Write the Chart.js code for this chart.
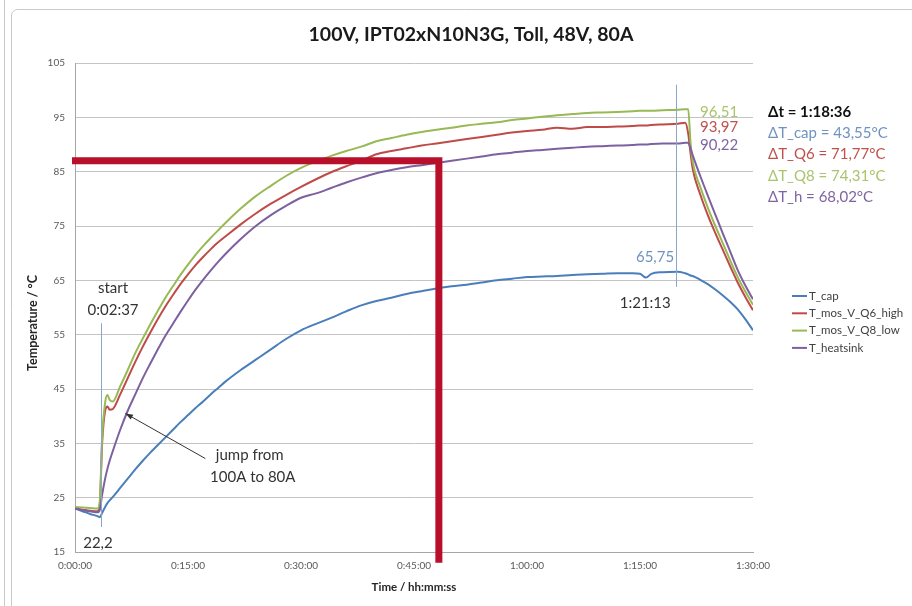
<!DOCTYPE html>
<html>
<head>
<meta charset="utf-8">
<script src="https://cdn.jsdelivr.net/npm/chart.js@4.4.4/dist/chart.umd.min.js"></script>
<style>
  html, body { margin: 0; padding: 0; background: #fff; }
  #wrap { width: 912px; height: 606px; }
</style>
</head>
<body>
<div id="wrap"><canvas id="chart" width="912" height="606"></canvas></div>
<script>
// time in minutes since start of log
const minutes = [
  0, 1, 2, 3, 3.3, 3.6, 4, 4.3, 4.6, 5,
  6, 7, 8, 9, 10, 11, 12, 13, 14, 15,
  16, 17, 18, 19, 20, 22, 24, 26, 28, 30,
  32, 34, 36, 38, 40, 42, 44, 46, 48, 50,
  52, 54, 56, 58, 60, 62, 64, 66, 68, 70,
  72, 74, 75, 75.8, 76.5, 78, 80, 81, 81.4, 81.7,
  82, 83, 84, 85, 86, 87, 88, 89, 90
];

const tCap = [
  23.0, 22.5, 22.0, 21.6, 21.4, 22.2, 23.3, 24.0, 24.5, 25.1,
  26.8, 28.5, 30.2, 31.8, 33.3, 34.7, 36.1, 37.5, 38.9, 40.2,
  41.5, 42.7, 44.0, 45.2, 46.4, 48.5, 50.4, 52.3, 54.2, 55.8,
  57.0, 58.1, 59.3, 60.4, 61.2, 61.8, 62.5, 63.0, 63.5, 63.9,
  64.2, 64.6, 65.0, 65.3, 65.6, 65.7, 65.8, 66.0, 66.1, 66.2,
  66.3, 66.3, 66.2, 65.5, 66.2, 66.5, 66.6, 66.3, 66.1, 65.9,
  65.8, 65.1, 64.3, 63.3, 62.2, 61.0, 59.6, 57.8, 55.8
];

const tQ6 = [
  23.0, 22.8, 22.6, 22.5, 24.0, 35.0, 41.0, 41.8, 41.2, 41.3,
  44.0, 47.0, 50.0, 52.8, 55.4, 57.9, 60.2, 62.3, 64.3, 66.1,
  67.8, 69.3, 70.7, 72.0, 73.1, 75.3, 77.3, 79.1, 80.7, 82.2,
  83.6, 84.9, 86.0, 87.0, 88.2, 88.8, 89.3, 89.8, 90.2, 90.6,
  91.0, 91.4, 91.8, 92.2, 92.5, 92.7, 93.1, 92.9, 93.2, 93.2,
  93.3, 93.4, 93.5, 93.5, 93.6, 93.7, 93.8, 94.0, 92.0, 88.5,
  85.5, 80.8, 77.0, 73.7, 70.6, 67.5, 64.5, 61.9, 59.5
];

const tQ8 = [
  23.3, 23.2, 23.1, 23.0, 24.5, 36.0, 42.5, 43.9, 43.0, 42.7,
  45.5, 48.5, 51.6, 54.3, 56.9, 59.4, 61.8, 63.9, 66.0, 67.9,
  69.7, 71.3, 72.8, 74.2, 75.6, 78.2, 80.5, 82.4, 84.2, 85.7,
  86.9, 87.9, 88.8, 89.6, 90.6, 91.2, 91.8, 92.3, 92.7, 93.1,
  93.5, 93.8, 94.1, 94.5, 94.8, 95.1, 95.4, 95.6, 95.8, 95.9,
  96.0, 96.1, 96.2, 96.2, 96.2, 96.3, 96.4, 96.5, 96.5, 90.5,
  86.8, 82.2, 78.4, 75.0, 71.8, 68.6, 65.5, 62.9, 60.5
];

const tHeatsink = [
  23.0, 22.7, 22.5, 22.3, 22.8, 25.5, 28.5, 30.3, 31.8, 33.5,
  37.5, 41.0, 44.0, 47.0, 49.7, 52.3, 54.8, 57.0, 59.2, 61.3,
  63.3, 65.1, 66.8, 68.4, 69.9, 72.6, 75.0, 77.0, 78.7, 80.2,
  81.0, 82.0, 83.0, 83.9, 84.7, 85.3, 85.8, 86.2, 86.6, 87.0,
  87.4, 87.8, 88.2, 88.5, 88.8, 89.0, 89.2, 89.4, 89.6, 89.7,
  89.8, 89.9, 90.0, 90.0, 90.1, 90.2, 90.2, 90.3, 90.3, 89.3,
  88.0, 84.2, 80.6, 77.1, 73.6, 70.2, 66.8, 64.0, 61.5
];

const seriesNames = ['T_cap', 'T_mos_V_Q6_high', 'T_mos_V_Q8_low', 'T_heatsink'];
const seriesValues = [tCap, tQ6, tQ8, tHeatsink];

const yTicks = [15, 105, 10];   // min, max, step
const xTicks = [0, 90, 15];     // minutes

const FONT = 'Lato, "Open Sans", sans-serif';
const COLORS = ['#4a7ebb', '#be4b48', '#98b954', '#7d60a0'];

function fmtTime(m) {
  const h = Math.floor(m / 60);
  const mm = Math.round(m % 60);
  return h + ':' + String(mm).padStart(2, '0') + ':00';
}

const datasets = seriesNames.map((name, i) => ({
  label: name,
  data: minutes.map((t, k) => ({ x: t, y: seriesValues[i][k] })),
  borderColor: COLORS[i],
  backgroundColor: COLORS[i],
  borderWidth: 2,
  pointRadius: 0,
  cubicInterpolationMode: 'monotone',
  order: 4 - i
}));

// notes drawn on top of the plot, placed in data units (minutes, °C)
const notes = [
  { s: 'start', t: 5.05, v: 63.6, c: '#333' },
  { s: '0:02:37', t: 5.05, v: 59.5, c: '#333' },
  { s: '22,2', t: 3.05, v: 16.7, c: '#333' },
  { s: 'jump from', t: 23.2, v: 32.9, c: '#333' },
  { s: '100A to 80A', t: 23.6, v: 28.8, c: '#333' },
  { s: '65,75', t: 77.0, v: 69.3, c: '#6f93bf' },
  { s: '1:21:13', t: 75.7, v: 60.8, c: '#333' },
  { s: '96,51', t: 85.5, v: 96.0, c: '#a9c46c' },
  { s: '93,97', t: 85.5, v: 93.2, c: '#c0504d' },
  { s: '90,22', t: 85.5, v: 89.9, c: '#8064a2' }
];

const deltas = [
  { s: '\u0394t = 1:18:36', c: '#111', bold: true },
  { s: '\u0394T_cap = 43,55\u00b0C', c: '#6f93bf' },
  { s: '\u0394T_Q6 = 71,77\u00b0C', c: '#c0504d' },
  { s: '\u0394T_Q8 = 74,31\u00b0C', c: '#a9c46c' },
  { s: '\u0394T_h = 68,02\u00b0C', c: '#8064a2' }
];

const decor = {
  id: 'decor',
  beforeDraw(chart) {
    const ctx = chart.ctx;
    ctx.save();
    ctx.fillStyle = '#fff';
    ctx.fillRect(0, 0, chart.width, chart.height);
    ctx.strokeStyle = '#cacaca';
    ctx.lineWidth = 1;
    ctx.beginPath();
    ctx.moveTo(4.5, 0); ctx.lineTo(4.5, chart.height);
    ctx.moveTo(11.5, chart.height); ctx.lineTo(11.5, 15);
    ctx.arcTo(11.5, 9.5, 17.5, 9.5, 6);
    ctx.lineTo(chart.width, 9.5);
    ctx.stroke();
    ctx.restore();
  },
  afterDatasetsDraw(chart) {
    const ctx = chart.ctx;
    const xs = chart.scales.x, ys = chart.scales.y;
    const px = t => xs.getPixelForValue(t);
    const py = v => ys.getPixelForValue(v);
    ctx.save();

    // marker lines at start and at 1:21:13
    ctx.strokeStyle = '#8aa6c8';
    ctx.lineWidth = 1;
    ctx.beginPath();
    ctx.moveTo(Math.round(px(3.5)) + 0.5, py(57.1)); ctx.lineTo(Math.round(px(3.5)) + 0.5, py(19.6));
    ctx.moveTo(Math.round(px(79.8)) + 0.5, py(101)); ctx.lineTo(Math.round(px(79.8)) + 0.5, py(63.8));
    ctx.stroke();

    // arrow to the current step
    const ax0 = px(17.3), ay0 = py(32.2), ax1 = px(6.7), ay1 = py(40.5);
    ctx.strokeStyle = '#333';
    ctx.fillStyle = '#333';
    ctx.beginPath();
    ctx.moveTo(ax0, ay0); ctx.lineTo(ax1, ay1);
    ctx.stroke();
    const ang = Math.atan2(ay1 - ay0, ax1 - ax0);
    ctx.beginPath();
    ctx.moveTo(ax1, ay1);
    ctx.lineTo(ax1 - 8 * Math.cos(ang - 0.35), ay1 - 8 * Math.sin(ang - 0.35));
    ctx.lineTo(ax1 - 8 * Math.cos(ang + 0.35), ay1 - 8 * Math.sin(ang + 0.35));
    ctx.closePath();
    ctx.fill();

    // text notes
    ctx.textAlign = 'center';
    ctx.textBaseline = 'middle';
    ctx.font = '15px ' + FONT;
    notes.forEach(n => {
      ctx.fillStyle = n.c;
      ctx.fillText(n.s, px(n.t), py(n.v));
    });

    // delta block on the right
    ctx.textAlign = 'left';
    deltas.forEach((d, i) => {
      ctx.font = (d.bold ? 'bold ' : '') + '15px ' + FONT;
      ctx.fillStyle = d.c;
      ctx.fillText(d.s, 768, 112 + i * 21.3);
    });

    // red markup drawn over the chart
    ctx.strokeStyle = '#b80f2a';
    ctx.lineWidth = 7;
    ctx.lineJoin = 'miter';
    ctx.beginPath();
    ctx.moveTo(px(-0.4), py(87));
    ctx.lineTo(px(48.3), py(87));
    ctx.lineTo(px(48.3), py(13));
    ctx.stroke();

    // title
    ctx.fillStyle = '#1a1a1a';
    ctx.textAlign = 'center';
    ctx.font = 'bold 19.5px ' + FONT;
    ctx.fillText('100V, IPT02xN10N3G, Toll, 48V, 80A', 471, 35);

    // axis titles
    ctx.font = 'bold 11.5px ' + FONT;
    ctx.fillStyle = '#262626';
    ctx.fillText('Time / hh:mm:ss', 414, 587);
    ctx.save();
    ctx.translate(33, 323);
    ctx.rotate(-Math.PI / 2);
    ctx.font = 'bold 12.5px ' + FONT;
    ctx.fillText('Temperature / \u00b0C', 0, 0);
    ctx.restore();

    // legend
    ctx.textAlign = 'left';
    ctx.font = '11.5px ' + FONT;
    chart.data.datasets.forEach((ds, i) => {
      const y = 296 + i * 17.3;
      ctx.strokeStyle = ds.borderColor;
      ctx.lineWidth = 2;
      ctx.beginPath();
      ctx.moveTo(792, y); ctx.lineTo(807, y);
      ctx.stroke();
      ctx.fillStyle = '#404040';
      ctx.fillText(ds.label, 809, y);
    });

    ctx.restore();
  }
};

new Chart(document.getElementById('chart'), {
  type: 'line',
  data: { datasets },
  plugins: [decor],
  options: {
    responsive: false,
    animation: false,
    devicePixelRatio: 1,
    layout: { padding: { top: 63, right: 159, left: 0, bottom: 0 } },
    plugins: { legend: { display: false }, tooltip: { enabled: false } },
    scales: {
      x: {
        type: 'linear',
        min: xTicks[0], max: xTicks[1],
        afterFit: s => { s.height = 54; },
        ticks: {
          stepSize: xTicks[2],
          padding: 8,
          maxRotation: 0,
          color: '#595959',
          font: { family: FONT, size: 10 },
          callback: v => fmtTime(v)
        },
        grid: { drawOnChartArea: false, drawTicks: false },
        border: { color: '#a6a6a6' }
      },
      y: {
        min: yTicks[0], max: yTicks[1],
        afterFit: s => { s.width = 75; },
        ticks: {
          stepSize: yTicks[2],
          padding: 10,
          color: '#595959',
          font: { family: FONT, size: 10 }
        },
        grid: { color: '#c4c4c4', drawTicks: false },
        border: { color: '#a6a6a6' }
      }
    }
  }
});
</script>
</body>
</html>
